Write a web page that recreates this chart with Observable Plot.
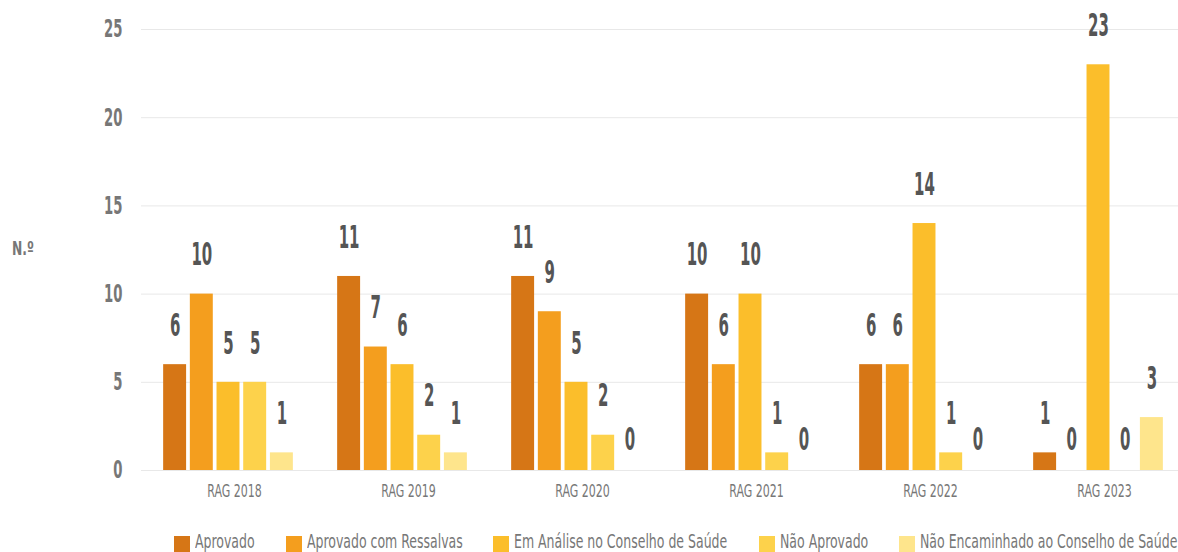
<!DOCTYPE html>
<html>
<head>
<meta charset="utf-8">
<script src="https://cdn.jsdelivr.net/npm/d3@7"></script>
<script src="https://cdn.jsdelivr.net/npm/@observablehq/plot@0.6"></script>
<style>
  body { margin: 0; background: #fff; font-family: "DejaVu Sans Condensed", "DejaVu Sans", sans-serif; font-stretch: condensed; }
  #wrap { position: relative; width: 1178px; height: 552px; overflow: hidden; }
  #ylab { position: absolute; left: 12px; top: 237px; font-size: 19px; line-height: 22px; font-weight: bold; color: #777; transform: scaleX(0.72); transform-origin: left center; }
  #legend { position: absolute; left: 0; top: 531px; width: 1178px; height: 21px; }
  .item { position: absolute; top: 0; height: 21px; white-space: nowrap; }
  .sw { position: absolute; left: 0; top: 5px; width: 16px; height: 17px; }
  .txt { position: absolute; left: 21px; top: 0; font-size: 20px; line-height: 21px; color: #777; transform: scaleX(0.695); transform-origin: left center; }
</style>
</head>
<body>
<div id="wrap">
  <div id="chart"></div>
  <div id="ylab">N.º</div>
  <div id="legend"></div>
</div>
<script>
const groups = ["RAG 2018", "RAG 2019", "RAG 2020", "RAG 2021", "RAG 2022", "RAG 2023"];
const series = ["Aprovado", "Aprovado com Ressalvas", "Em Análise no Conselho de Saúde", "Não Aprovado", "Não Encaminhado ao Conselho de Saúde"];
const colors = ["#D67616", "#F49E1E", "#FBBE2B", "#FDD24B", "#FEE58C"];
const aprovado = [6, 11, 11, 10, 6, 1];
const aprovadoRessalvas = [10, 7, 9, 6, 6, 0];
const emAnalise = [5, 6, 5, 10, 14, 23];
const naoAprovado = [5, 2, 2, 1, 1, 0];
const naoEncaminhado = [1, 1, 0, 0, 0, 3];
const yTicks = [0, 5, 10, 15, 20, 25];

const valuesBySeries = [aprovado, aprovadoRessalvas, emAnalise, naoAprovado, naoEncaminhado];
const data = [];
groups.forEach((g, gi) => series.forEach((s, si) => data.push({group: g, series: s, value: valuesBySeries[si][gi]})));

const chart = Plot.plot({
  width: 1178,
  height: 525,
  marginTop: 29,
  marginBottom: 55,
  marginLeft: 141,
  marginRight: -7,
  style: { fontFamily: '"DejaVu Sans Condensed", "DejaVu Sans", sans-serif', background: "transparent" },
  fx: { domain: groups, padding: 0, label: null, axis: null, round: false },
  x: { domain: series, axis: null, paddingInner: 0.14, paddingOuter: 0.83, round: false },
  y: { domain: [0, 25], ticks: yTicks, grid: true, label: null, tickSize: 0, tickPadding: 19 },
  color: { domain: series, range: colors },
  marks: [
    Plot.axisFx({ anchor: "bottom", tickSize: 0, tickPadding: 14, dx: 6, label: null, fontSize: 18, fill: "#777" }),
    Plot.barY(data, { fx: "group", x: "series", y: "value", fill: "series" }),
    Plot.text(data.filter(d => d.value > 0), { fx: "group", x: "series", y: "value", text: d => String(d.value), dy: -39, fill: "#555", fontSize: 32, fontWeight: "bold", className: "vlab" }),
    Plot.text(data.filter(d => d.value === 0), { fx: "group", x: "series", y: "value", text: d => String(d.value), dy: -31, fill: "#555", fontSize: 32, fontWeight: "bold", className: "vlab" })
  ]
});
document.getElementById("chart").appendChild(chart);

// horizontally condense texts without moving their anchor point
function squeeze(sel, sx) {
  sel.each(function() {
    const t = this.getAttribute("transform") || "";
    const xa = this.getAttribute("x");
    const x = xa !== null && !isNaN(+xa) ? +xa : 0;
    if (xa !== null && !isNaN(+xa)) this.removeAttribute("x");
    this.setAttribute("transform", `${t} translate(${x},0) scale(${sx},1)`);
  });
}

const yTexts = d3.select(chart).selectAll("[aria-label='y-axis tick label'] text");
yTexts.attr("font-size", 24.5).attr("font-weight", "bold").attr("fill", "#777");
squeeze(yTexts, 0.6);
const fxTexts = d3.select(chart).selectAll("[aria-label='fx-axis tick label'] text");
fxTexts.attr("font-size", 18).attr("fill", "#777");
squeeze(fxTexts, 0.68);
squeeze(d3.select(chart).selectAll(".vlab text"), 0.52);
d3.select(chart).selectAll("[aria-label='y-grid'] line").attr("stroke", "#e8e8e8").attr("stroke-opacity", 1);

const legend = document.getElementById("legend");
let left = 174;
series.forEach((s, i) => {
  const it = document.createElement("div");
  it.className = "item";
  it.style.left = left + "px";
  const sw = document.createElement("span");
  sw.className = "sw";
  sw.style.background = colors[i];
  const tx = document.createElement("span");
  tx.className = "txt";
  tx.textContent = s;
  it.appendChild(sw);
  it.appendChild(tx);
  legend.appendChild(it);
  const w = tx.getBoundingClientRect().width;
  left += 21 + w + 31;
});
</script>
</body>
</html>
